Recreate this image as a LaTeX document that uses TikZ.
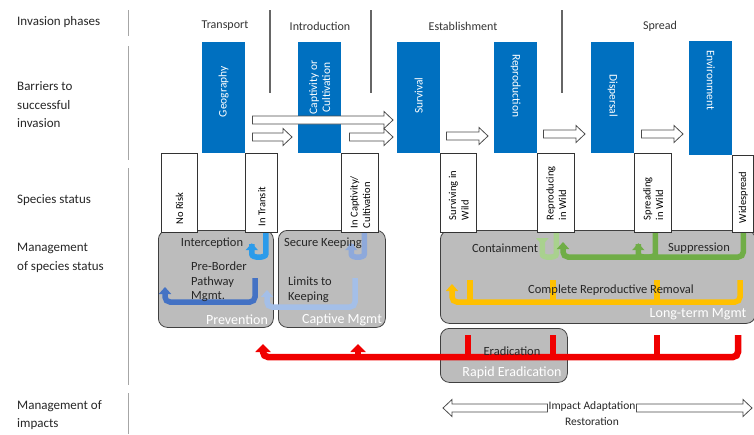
\documentclass[tikz,border=0pt]{standalone}
\usepackage{fontspec}
\setmainfont{Carlito}
\usetikzlibrary{positioning,arrows.meta,calc}
\definecolor{BarrierBlue}{HTML}{0070C0}
\definecolor{MgmtGray}{HTML}{BCBCBC}
\definecolor{EdgeGray}{HTML}{404040}
\definecolor{InterBlue}{HTML}{2C9BEA}
\definecolor{KeepBlue}{HTML}{8EA9DB}
\definecolor{PathBlue}{HTML}{4472C4}
\definecolor{LimitBlue}{HTML}{A4BFE8}
\definecolor{ContGreen}{HTML}{A9D18E}
\definecolor{SuppGreen}{HTML}{70AD47}
\definecolor{RemGold}{HTML}{FFC000}
\definecolor{EradRed}{HTML}{F00000}

\begin{document}
\begin{tikzpicture}[x=1pt, y=-1pt,
        rowlabel/.style={anchor=west, align=left, font=\fontsize{13}{18.5}\selectfont, text=black!85, inner sep=0pt},
        phase/.style={font=\fontsize{12}{14}\selectfont, text=black!80},
        divider/.style={draw=black!60, line width=1.2pt},
        rowline/.style={draw=black!35, line width=1pt},
        barrier/.style={rectangle, fill=BarrierBlue, anchor=north west, minimum width=43pt, minimum height=111pt, inner sep=0pt},
        bartext/.style={rotate=90, text=white, align=center, font=\fontsize{11.5}{13}\selectfont},
        status/.style={rectangle, draw=black!80, fill=white, line width=0.8pt, anchor=north west, minimum width=37pt, minimum height=79pt, inner sep=0pt},
        sttext/.style={rotate=90, anchor=west, align=left, font=\fontsize{10.5}{12.5}\selectfont, inner sep=0pt},
        mgmt/.style={rectangle, rounded corners=9pt, draw=EdgeGray, fill=MgmtGray, line width=0.8pt, anchor=north west, inner sep=0pt},
        mtext/.style={font=\fontsize{12.5}{14.5}\selectfont, text=black!85, align=left, inner sep=1pt},
        mlabel/.style={font=\fontsize{14}{15}\selectfont, text=white, inner sep=1pt},
        hook/.style={line width=5.5pt, rounded corners=5pt, -{Triangle[width=12pt,length=7pt]}},
        plain/.style={line width=5.5pt},
        harrow/.style={draw=black!70, fill=white, line width=0.8pt,
            to path={let \p1=(\tikztostart), \p2=(\tikztotarget), \n1={(\x2>\x1)*2-1} in
                (\x1,\y1+4pt) -- (\x2-\n1*9pt,\y1+4pt) -- (\x2-\n1*9pt,\y1+8.5pt) -- (\x2,\y1)
                -- (\x2-\n1*9pt,\y1-8.5pt) -- (\x2-\n1*9pt,\y1-4pt) -- (\x1,\y1-4pt) -- cycle}}
    ]
    \useasboundingbox (0,0) rectangle (754,434);

    % row titles
    \node [rowlabel] (tphase) at (17,22) {Invasion phases};
    \node [rowlabel] (tbarr) at (17,105) {Barriers to\\successful\\invasion};
    \node [rowlabel] (tstat) at (17,200) {Species status};
    \node [rowlabel] (tmgmt) at (17,258) {Management\\of species status};
    \node [rowlabel] (timp) at (17,415) {Management of\\impacts};
    \draw [rowline] (128,10) -- (128,36) (128,46) -- (128,160) (128,168) -- (128,385) (128,393) -- (128,434);

    % phases
    \node [phase] (transport) at (225,26) {Transport};
    \node [phase] (intro) at (320,26) {Introduction};
    \node [phase] (estab) at (463,26) {Establishment};
    \node [phase] (spread) at (660,26) {Spread};
    \draw [divider] (270,10) -- (270,93) (371,10) -- (371,93) (562,10) -- (562,93);

    % barriers
    \node [barrier] (geo) at (202,42) {};
    \node [barrier] (capt) at (298,42) {};
    \node [barrier] (surv) at (397,42) {};
    \node [barrier] (repr) at (494,42) {};
    \node [barrier] (disp) at (591,42) {};
    \node [barrier, minimum height=114pt] (env) at (689,41) {};
    \node [bartext] (geotx) at ([yshift=6pt]geo.center) {Geography};
    \node [bartext] (capttx) at ([yshift=10pt]capt.center) {Captivity or\\Cultivation};
    \node [bartext] (survtx) at ([yshift=2pt]surv.center) {Survival};
    \node [bartext, rotate=180] (reprtx) at ([yshift=12pt]repr.center) {Reproduction};
    \node [bartext, rotate=180] (disptx) at ([yshift=2pt]disp.center) {Dispersal};
    \node [bartext, rotate=180] (envtx) at ([yshift=18pt]env.center) {Environment};

    \draw [harrow] ($(geo.east |- 0,120)+(7,0)$) to ($(surv.west |- 0,120)+(-4,0)$);
    \draw [harrow] ($(geo.east |- 0,137)+(7,0)$) to ($(capt.west |- 0,137)+(-6,0)$);
    \draw [harrow] ($(capt.east |- 0,137)+(8,0)$) to ($(surv.west |- 0,137)+(-4,0)$);
    \draw [harrow] ($(surv.east |- 0,136)+(6,0)$) to ($(repr.west |- 0,136)+(-6,0)$);
    \draw [harrow] ($(repr.east |- 0,134)+(6,0)$) to ($(disp.west |- 0,134)+(-6,0)$);
    \draw [harrow] ($(disp.east |- 0,134)+(7,0)$) to ($(env.west |- 0,134)+(-6,0)$);

    % management boxes
    \node [mgmt, minimum width=115pt, minimum height=97pt] (prev) at (158,230) {};
    \node [mgmt, minimum width=107pt, minimum height=97pt] (captm) at (278,230) {};
    \node [mgmt, minimum width=315pt, minimum height=93pt] (ltm) at (440,230) {};
    \node [mgmt, minimum width=127pt, minimum height=54pt] (rapid) at (440,328) {};

    % species status
    \node [status, minimum width=36pt] (norisk) at (161,153) {};
    \node [status, minimum width=32pt] (transit) at (geo.south east) {};
    \node [status] (captst) at (capt.south east) {};
    \node [status, minimum width=36pt] (survst) at (surv.south east) {};
    \node [status] (repst) at (repr.south east) {};
    \node [status] (sprst) at (disp.south east) {};
    \node [status, minimum width=21pt, minimum height=77pt] (wide) at (env.south east) {};
    \node [sttext] (noristx) at ([yshift=8pt]norisk.south) {No Risk};
    \node [sttext] (transtx) at ([yshift=7pt]transit.south) {In Transit};
    \node [sttext] (captsttx) at ([yshift=5pt]captst.south) {In Captivity/\\Cultivation};
    \node [sttext] (survsttx) at ([yshift=13pt]survst.south) {Surviving in\\Wild};
    \node [sttext] (repsttx) at ([yshift=13pt]repst.south) {Reproducing\\in Wild};
    \node [sttext] (sprsttx) at ([yshift=13pt]sprst.south) {Spreading\\in Wild};
    \node [sttext] (widetx) at ([yshift=10pt]wide.south) {Widespread};

    % management arrows
    \coordinate (pbm) at (255,278);
    \coordinate (lim) at (355,278);
    \foreach \x/\n in {470/1,553/2,657/3,740/4} \coordinate (cr\n) at (\x,280);
    \foreach \x/\n in {468/1,553/2,657/3,738/4} \coordinate (er\n) at (\x,335);

    \draw [hook, InterBlue] ([xshift=4pt]transit.south) -- ++(0,16) .. controls +(0,9) and +(0,9) .. ++(-14,0) -- ++(0,-6);
    \draw [hook, KeepBlue] ([xshift=4pt]captst.south) -- ++(0,16) .. controls +(0,9) and +(0,9) .. ++(-13,0) -- ++(0,-6);
    \draw [hook, LimitBlue] (lim) |- (267,307) -- (267,290);
    \draw [hook, PathBlue] (pbm) |- (165,302) -- (165,287);
    \draw [hook, ContGreen] (repst.south) -- ++(0,16) .. controls +(0,9) and +(0,9) .. ++(-14,0) -- ++(0,-4);
    \draw [hook, SuppGreen] (wide.south) |- (563,257) -- (563,242);
    \draw [hook, SuppGreen] ([xshift=2pt]sprst.south) -- ++(0,16) .. controls +(0,9) and +(0,9) .. ++(-17,0) -- ++(0,-6);
    \foreach \n in {1,2,3} \draw [plain, RemGold] (cr\n) -- (cr\n |- 0,302);
    \draw [hook, RemGold] (cr4) |- (452,302) -- (452,284);
    \foreach \n in {1,2,3} \draw [plain, EradRed] (er\n) -- (er\n |- 0,357);
    \draw [hook, EradRed, line width=6.5pt, -{Triangle[width=15pt,length=8pt]}] (er4) |- (263,357) -- (263,344);
    \draw [hook, EradRed, line width=6.5pt, -{Triangle[width=15pt,length=8pt]}] (358,357) -- (358,344);

    % management texts
    \node [mtext] (icpt) at (212,243) {Interception};
    \node [mtext, anchor=west] (pbmtx) at (190,282) {Pre-Border\\Pathway\\Mgmt.};
    \node [mtext] (seck) at (323,243) {Secure Keeping};
    \node [mtext, anchor=west] (limtx) at (287,290) {Limits to\\Keeping};
    \node [mtext] (cont) at (505,248) {Containment};
    \node [mtext] (supp) at (699,248) {Suppression};
    \node [mtext] (crr) at (611,290) {Complete Reproductive Removal};
    \node [mtext] (erad) at (512,351) {Eradication};
    \node [mlabel] (prevlb) at (237,320) {Prevention};
    \node [mlabel] (captlb) at (342,320) {Captive Mgmt};
    \node [mlabel] (ltmlb) at (698,314) {Long-term Mgmt};
    \node [mlabel] (rapidlb) at (512,373) {Rapid Eradication};

    % impacts
    \coordinate (imL) at (443,408);
    \coordinate (imR) at (752,408);
    \node [mtext, align=center, font=\fontsize{11.5}{16}\selectfont] (impact) at (592,414) {Impact Adaptation\\Restoration};
    \draw [harrow] (impact.west |- imL) to (imL);
    \draw [harrow] (impact.east |- imR) to (imR);
\end{tikzpicture}
\end{document}
